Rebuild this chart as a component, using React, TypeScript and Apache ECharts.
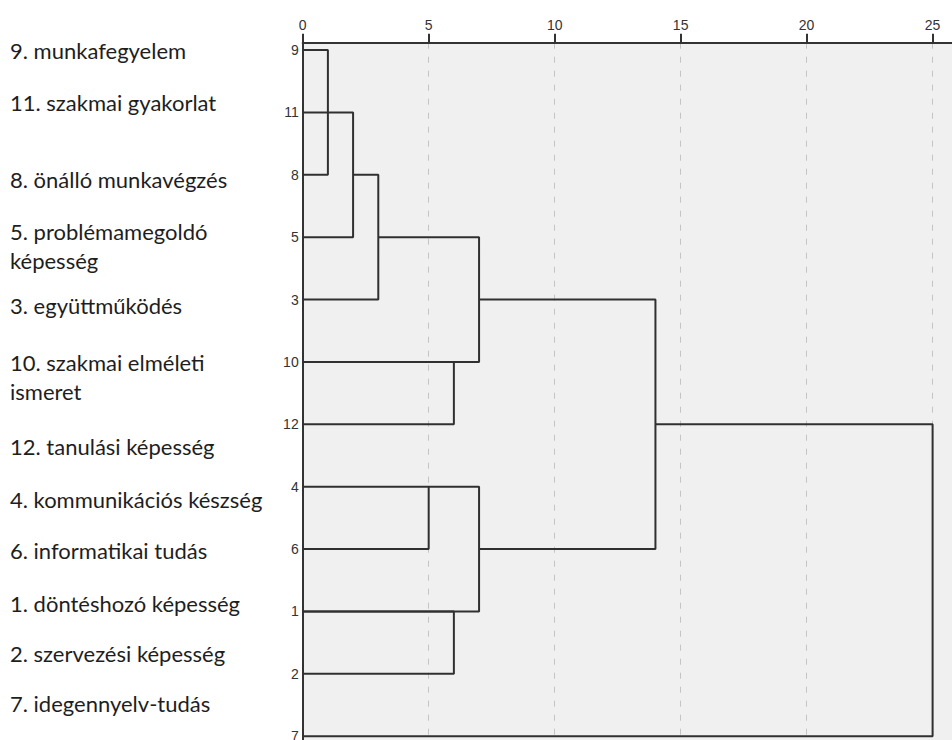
import React, { useEffect, useRef } from "react";
import * as echarts from "echarts";

// Leaf order (top to bottom) as shown on the vertical axis
const leafIds = ["9", "11", "8", "5", "3", "10", "12", "4", "6", "1", "2", "7"];

// Item names written at the left
const itemLabels = [
  "9. munkafegyelem",
  "11. szakmai gyakorlat",
  "8. önálló munkavégzés",
  "5. problémamegoldó\nképesség",
  "3. együttműködés",
  "10. szakmai elméleti\nismeret",
  "12. tanulási képesség",
  "4. kommunikációs készség",
  "6. informatikai tudás",
  "1. döntéshozó képesség",
  "2. szervezési képesség",
  "7. idegennyelv-tudás",
];

// Distance tick labels (rescaled distance, 0..25)
const distanceTicks = [0, 5, 10, 15, 20, 25];

// Merges: height, upper row (index into leafIds) + start distance, lower row + start distance
const mergeHeights = [1, 2, 3, 6, 7, 5, 6, 7, 14, 25];
const mergeTopRows = [0, 1, 2, 5, 3, 7, 9, 7, 4, 6];
const mergeTopStarts = [0, 0, 2, 0, 3, 0, 0, 5, 7, 14];
const mergeBottomRows = [2, 3, 4, 6, 5, 8, 10, 9, 8, 11];
const mergeBottomStarts = [0, 0, 0, 0, 0, 0, 0, 0, 7, 0];

// Layout of the left-hand item texts (first-line centre, px)
const labelLayoutY = [50, 102, 179, 231, 305, 362, 446, 499, 550, 603, 653, 703];

export default function App() {
  const ref = useRef<HTMLDivElement>(null);

  useEffect(() => {
    if (!ref.current) return;
    const chart = echarts.init(ref.current, undefined, { renderer: "svg" });

    const series = mergeHeights.map((h, i) => ({
      type: "line",
      symbol: "none",
      silent: true,
      lineStyle: { color: "#303030", width: 2 },
      data: [
        [mergeTopStarts[i], mergeTopRows[i]],
        [h, mergeTopRows[i]],
        [h, mergeBottomRows[i]],
        [mergeBottomStarts[i], mergeBottomRows[i]],
      ],
    }));

    const lineH = 29;
    const texts = itemLabels.map((t, i) => ({
      type: "text",
      left: 10,
      top: labelLayoutY[i] - lineH / 2,
      style: {
        text: t,
        font: '22px "Lato", "Noto Sans", sans-serif',
        fill: "#1e1e1e",
        lineHeight: lineH,
        textVerticalAlign: "top",
      },
    }));

    chart.setOption({
      animation: false,
      backgroundColor: "#ffffff",
      grid: {
        left: 302.7,
        top: 42.7,
        right: 0,
        bottom: 0,
        containLabel: false,
        outerBoundsMode: "none",
        show: true,
        backgroundColor: "#f0f0f0",
        borderWidth: 0,
      },
      xAxis: {
        type: "value",
        position: "top",
        min: 0,
        max: 25.77,
        axisLine: { show: true, onZero: false, lineStyle: { color: "#333333", width: 2 } },
        axisTick: {
          show: true,
          length: 9,
          customValues: distanceTicks,
          lineStyle: { color: "#333333", width: 2 },
        },
        axisLabel: {
          customValues: distanceTicks,
          color: "#333333",
          fontSize: 14,
          fontFamily: "Arial, 'Liberation Sans', sans-serif",
          margin: 11,
        },
        splitLine: {
          show: true,
          lineStyle: { color: "#c4c4c4", width: 1, type: [6, 8] },
        },
      },
      yAxis: {
        type: "value",
        inverse: true,
        min: -0.117,
        max: 11.06,
        axisLine: { show: true, onZero: false, lineStyle: { color: "#333333", width: 2 } },
        axisTick: { show: false },
        splitLine: { show: false },
        axisLabel: {
          customValues: leafIds.map((_, i) => i),
          formatter: (v: number) => leafIds[Math.round(v)] ?? "",
          color: "#333333",
          fontSize: 14,
          fontFamily: "Arial, 'Liberation Sans', sans-serif",
          margin: 4,
        },
      },
      series,
      graphic: texts,
    });

    return () => chart.dispose();
  }, []);

  return (
    <div
      ref={ref}
      style={{ position: "fixed", left: 0, top: 0, width: 952, height: 740 }}
    />
  );
}
